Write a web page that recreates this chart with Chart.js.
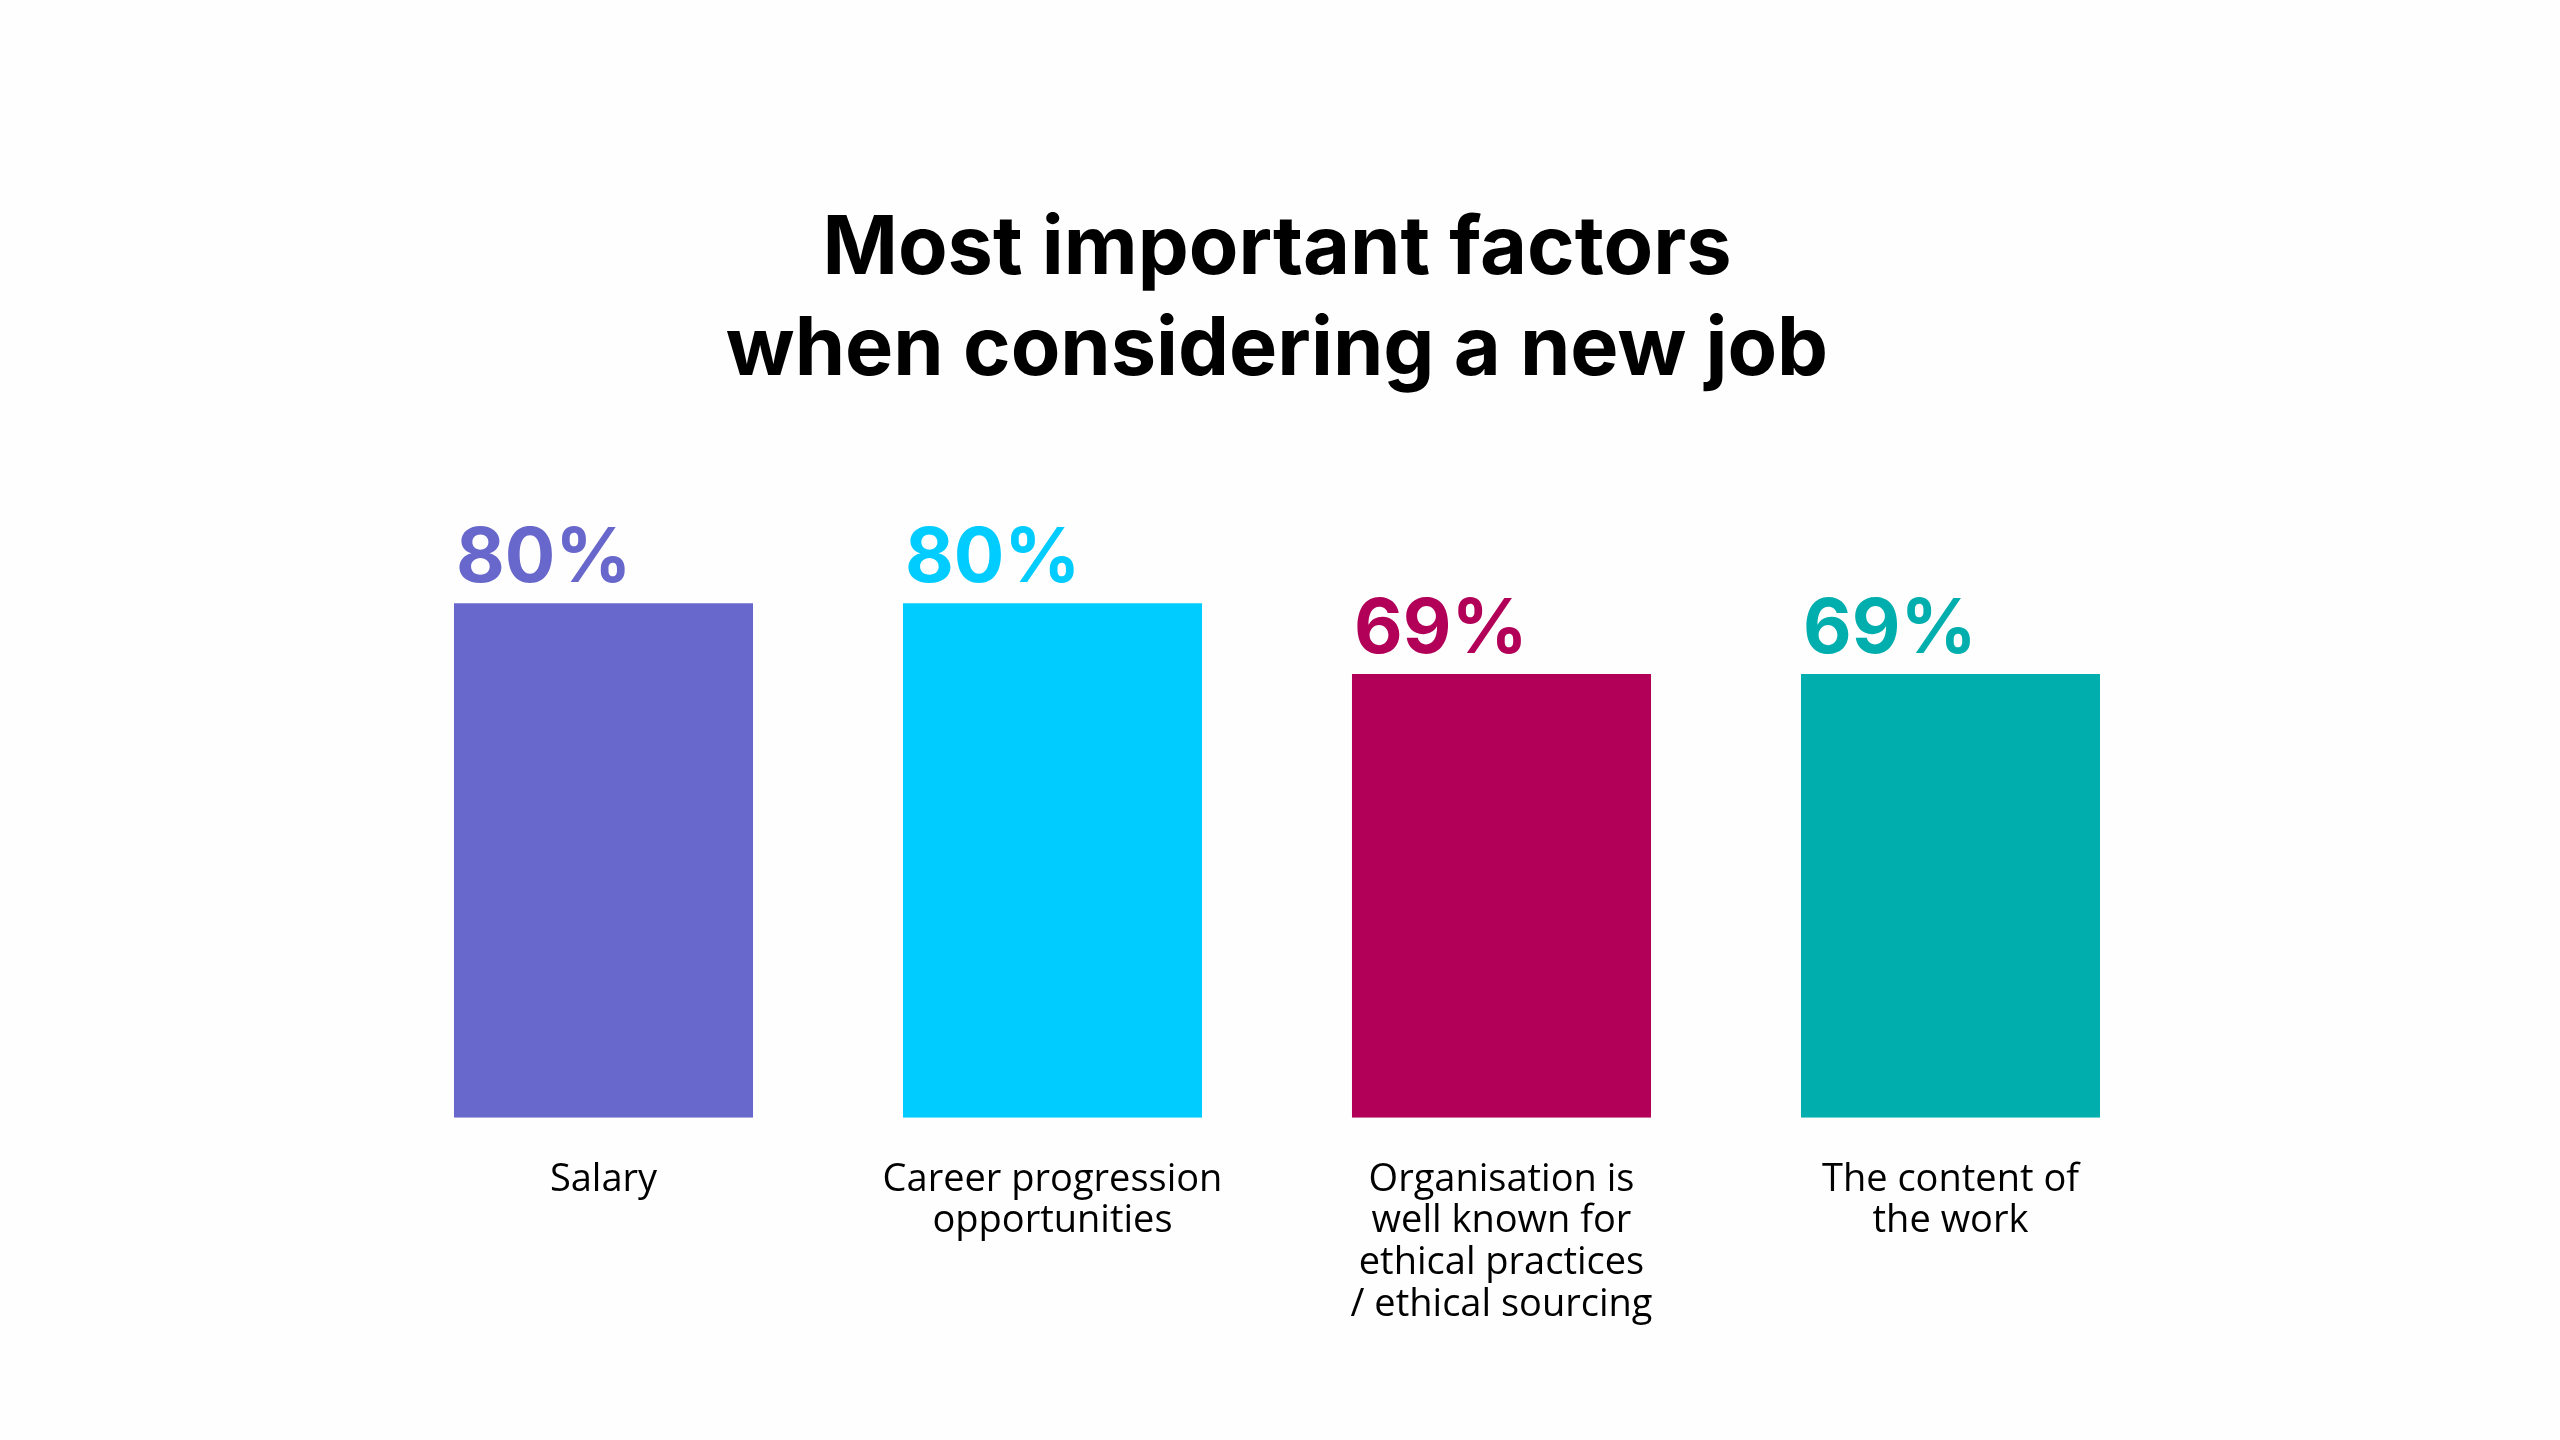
<!DOCTYPE html>
<html>
<head>
<meta charset="utf-8">
<script src="https://cdn.jsdelivr.net/npm/chart.js@4"></script>
<style>
  html, body { margin: 0; padding: 0; background: #fefefe; }
  #wrap { width: 2560px; height: 1440px; }
</style>
</head>
<body>
<div id="wrap"><canvas id="barChart"></canvas></div>
<script>
// chart data
const categories = [
  ["Salary"],
  ["Career progression", "opportunities"],
  ["Organisation is", "well known for", "ethical practices", "/ ethical sourcing"],
  ["The content of", "the work"],
];
const values = [80, 80, 69, 69];
const valueLabels = ["80%", "80%", "69%", "69%"];
const barColors = ["#6867cb", "#00ccff", "#b20058", "#00afad"];
const titleLines = ["Most important factors", "when considering a new job"];

// draws the big % numbers above each bar, left aligned to the bar
const valueLabelPlugin = {
  id: "valueLabels",
  afterDatasetsDraw(chart) {
    const ctx = chart.ctx;
    const meta = chart.getDatasetMeta(0);
    ctx.save();
    ctx.font = "700 75px Inter";
    ctx.textAlign = "left";
    ctx.textBaseline = "alphabetic";
    meta.data.forEach((bar, i) => {
      ctx.fillStyle = barColors[i];
      ctx.fillText(valueLabels[i], bar.x - bar.width / 2 + 2, bar.y - 21);
    });
    ctx.restore();
  },
};

const barChartCanvas = document.getElementById("barChart").getContext("2d");

const barChart = new Chart(barChartCanvas, {
  type: "bar",
  data: {
    labels: categories,
    datasets: [
      {
        data: values,
        backgroundColor: barColors,
        borderWidth: 0,
        categoryPercentage: 1,
        barPercentage: 0.666,
      },
    ],
  },
  options: {
    responsive: true,
    maintainAspectRatio: false,
    animation: false,
    layout: {
      padding: { top: 172, left: 379, right: 385, bottom: 81 },
    },
    scales: {
      y: {
        display: false,
        min: 0,
        max: 100,
      },
      x: {
        grid: { display: false },
        border: { display: false },
        ticks: {
          color: "#000",
          padding: 33,
          autoSkip: false,
          maxRotation: 0,
          font: { family: "'Open Sans'", size: 38, lineHeight: 1.1 },
        },
      },
    },
    plugins: {
      legend: { display: false },
      tooltip: { enabled: false },
      title: {
        display: true,
        text: titleLines,
        color: "#000",
        font: { family: "Inter", size: 81, weight: "700", lineHeight: 1.245 },
        padding: { top: 27, bottom: 74 },
      },
    },
  },
  plugins: [valueLabelPlugin],
});
</script>
</body>
</html>
